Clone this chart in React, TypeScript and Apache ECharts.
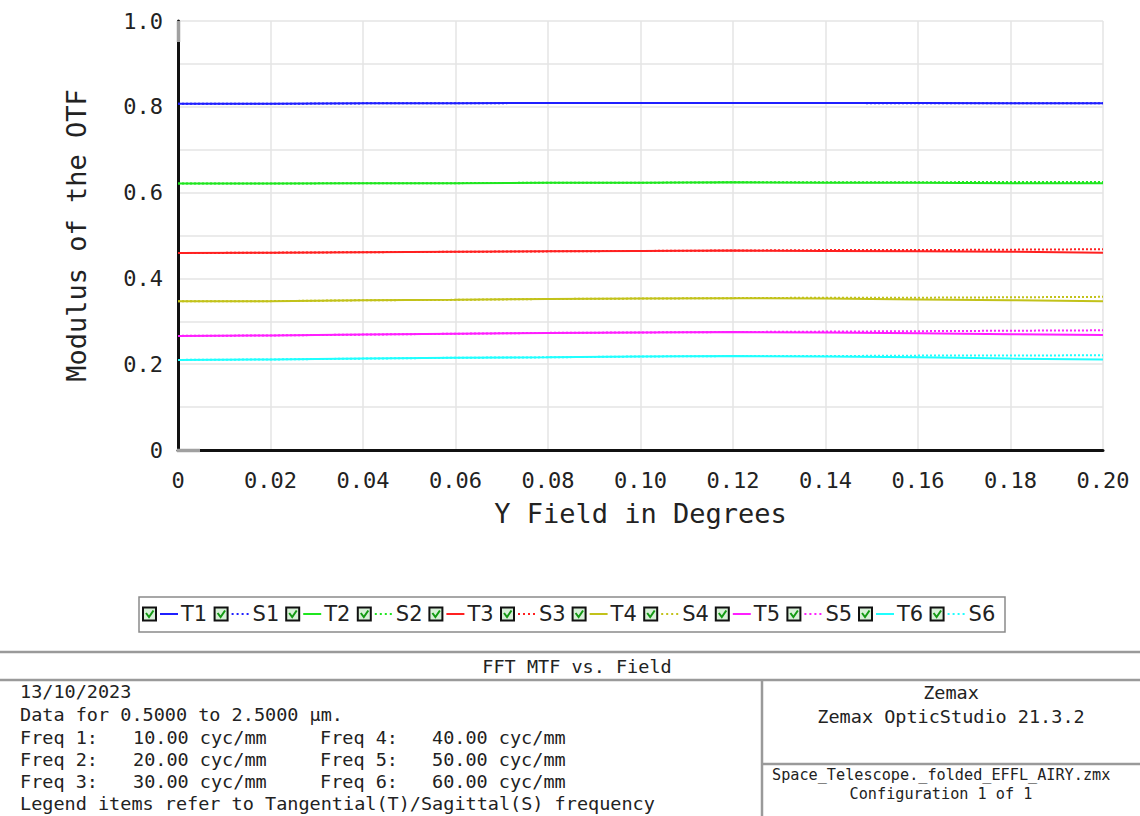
import React, { useEffect, useRef } from "react";
import * as echarts from "echarts";

const fieldDeg = [0, 0.02, 0.04, 0.06, 0.08, 0.1, 0.12, 0.14, 0.16, 0.18, 0.2];
const T1 = [0.807, 0.807, 0.808, 0.808, 0.809, 0.809, 0.809, 0.809, 0.809, 0.808, 0.808];
const S1 = [0.807, 0.807, 0.808, 0.808, 0.809, 0.809, 0.809, 0.809, 0.808, 0.808, 0.808];
const T2 = [0.621, 0.621, 0.622, 0.622, 0.623, 0.623, 0.624, 0.623, 0.623, 0.622, 0.622];
const S2 = [0.621, 0.621, 0.622, 0.622, 0.623, 0.623, 0.624, 0.624, 0.624, 0.625, 0.625];
const T3 = [0.459, 0.46, 0.461, 0.462, 0.463, 0.464, 0.465, 0.464, 0.463, 0.462, 0.46];
const S3 = [0.459, 0.46, 0.461, 0.462, 0.463, 0.464, 0.465, 0.466, 0.466, 0.467, 0.468];
const T4 = [0.347, 0.347, 0.349, 0.35, 0.352, 0.353, 0.354, 0.353, 0.351, 0.349, 0.347];
const S4 = [0.347, 0.347, 0.349, 0.35, 0.352, 0.353, 0.354, 0.355, 0.355, 0.356, 0.357];
const T5 = [0.266, 0.267, 0.269, 0.271, 0.273, 0.274, 0.275, 0.274, 0.272, 0.27, 0.268];
const S5 = [0.266, 0.267, 0.269, 0.271, 0.273, 0.274, 0.275, 0.276, 0.277, 0.278, 0.279];
const T6 = [0.21, 0.211, 0.213, 0.215, 0.216, 0.218, 0.219, 0.218, 0.216, 0.213, 0.211];
const S6 = [0.21, 0.211, 0.213, 0.215, 0.216, 0.218, 0.219, 0.219, 0.22, 0.22, 0.221];

const seriesNames = ["T1", "S1", "T2", "S2", "T3", "S3", "T4", "S4", "T5", "S5", "T6", "S6"];
const seriesValues = [T1, S1, T2, S2, T3, S3, T4, S4, T5, S5, T6, S6];
const freqColors = ["#1f1fff", "#1fe61f", "#ff2020", "#c2c21a", "#ff1fff", "#1fffff"];

const chartTitle = "FFT MTF vs. Field";
const xTitle = "Y Field in Degrees";
const yTitle = "Modulus of the OTF";
const infoLeft = ["13/10/2023", "Data for 0.5000 to 2.5000 µm."];
const freqLabels = ["Freq 1:", "Freq 2:", "Freq 3:", "Freq 4:", "Freq 5:", "Freq 6:"];
const freqValues = ["10.00 cyc/mm", "20.00 cyc/mm", "30.00 cyc/mm", "40.00 cyc/mm", "50.00 cyc/mm", "60.00 cyc/mm"];
const legendNote = "Legend items refer to Tangential(T)/Sagittal(S) frequency";
const infoRight = ["Zemax", "Zemax OpticStudio 21.3.2"];
const infoFile = ["Space_Telescope._folded_EFFL_AIRY.zmx", "Configuration 1 of 1"];

const MONO = "'DejaVu Sans Mono', monospace";
const TXT = "#222";

export default function App() {
  const ref = useRef<HTMLDivElement>(null);
  useEffect(() => {
    if (!ref.current) return;
    const chart = echarts.init(ref.current, null, { renderer: "svg" });

    const series = seriesNames.map((name, i) => ({
      name,
      type: "line",
      data: fieldDeg.map((x, j) => [x, seriesValues[i][j]]),
      showSymbol: false,
      symbol: "none",
      lineStyle: {
        color: freqColors[Math.floor(i / 2)],
        width: 2,
        type: i % 2 === 0 ? "solid" : "dotted",
      },
      z: i % 2 === 0 ? 2 : 3,
    }));

    const graphics: any[] = [];
    // gray ends of the axes, as in the original
    graphics.push({
      type: "line", z: 100,
      shape: { x1: 178.5, y1: 21, x2: 178.5, y2: 42 },
      style: { stroke: "#a0a0a0", lineWidth: 3.5 },
    });
    graphics.push({
      type: "line", z: 100,
      shape: { x1: 177, y1: 450.5, x2: 200, y2: 450.5 },
      style: { stroke: "#a0a0a0", lineWidth: 3.5 },
    });
    // legend box
    graphics.push({
      type: "rect",
      shape: { x: 139, y: 597, width: 866, height: 35 },
      style: { fill: "#fff", stroke: "#8a8a8a", lineWidth: 1.5 },
    });
    seriesNames.forEach((name, i) => {
      const x0 = 143 + i * 71.6;
      const cy = 614;
      const col = freqColors[Math.floor(i / 2)];
      graphics.push({
        type: "rect",
        shape: { x: x0, y: cy - 6.5, width: 13, height: 13 },
        style: { fill: "#d8f0d8", stroke: "#111", lineWidth: 2 },
      });
      graphics.push({
        type: "polyline",
        shape: { points: [[x0 + 3, cy - 1], [x0 + 6, cy + 3], [x0 + 10.5, cy - 3.5]] },
        style: { stroke: "#139a13", lineWidth: 2, fill: "none" },
      });
      graphics.push({
        type: "line",
        shape: { x1: x0 + 17, y1: cy, x2: x0 + 35, y2: cy },
        style: { stroke: col, lineWidth: 2, lineDash: i % 2 === 0 ? null : [2, 3] },
      });
      graphics.push({
        type: "text",
        x: x0 + 38,
        y: cy,
        style: { text: name, font: "21px 'DejaVu Sans', sans-serif", fill: TXT, verticalAlign: "middle" },
      });
    });

    // info panel lines
    const lineStyle = { stroke: "#9a9a9a", lineWidth: 2.5 };
    graphics.push({ type: "line", shape: { x1: 0, y1: 652, x2: 1140, y2: 652 }, style: lineStyle });
    graphics.push({ type: "line", shape: { x1: 0, y1: 680, x2: 1140, y2: 680 }, style: lineStyle });
    graphics.push({ type: "line", shape: { x1: 762, y1: 680, x2: 762, y2: 816 }, style: lineStyle });
    graphics.push({ type: "line", shape: { x1: 762, y1: 764, x2: 1140, y2: 764 }, style: lineStyle });

    const infoFont = `18.5px ${MONO}`;
    graphics.push({
      type: "text", x: 577, y: 666,
      style: { text: chartTitle, font: infoFont, fill: TXT, align: "center", verticalAlign: "middle" },
    });
    infoLeft.forEach((t, k) => {
      graphics.push({
        type: "text", x: 20, y: 691 + k * 23,
        style: { text: t, font: infoFont, fill: TXT, verticalAlign: "middle" },
      });
    });
    for (let r = 0; r < 3; r++) {
      const y = 737 + r * 22;
      graphics.push({ type: "text", x: 20, y, style: { text: freqLabels[r], font: infoFont, fill: TXT, verticalAlign: "middle" } });
      graphics.push({ type: "text", x: 133, y, style: { text: freqValues[r], font: infoFont, fill: TXT, verticalAlign: "middle" } });
      graphics.push({ type: "text", x: 320, y, style: { text: freqLabels[r + 3], font: infoFont, fill: TXT, verticalAlign: "middle" } });
      graphics.push({ type: "text", x: 432, y, style: { text: freqValues[r + 3], font: infoFont, fill: TXT, verticalAlign: "middle" } });
    }
    graphics.push({
      type: "text", x: 20, y: 803,
      style: { text: legendNote, font: infoFont, fill: TXT, verticalAlign: "middle" },
    });
    infoRight.forEach((t, k) => {
      graphics.push({
        type: "text", x: 951, y: 692 + k * 24,
        style: { text: t, font: infoFont, fill: TXT, align: "center", verticalAlign: "middle" },
      });
    });
    graphics.push({
      type: "text", x: 772, y: 775,
      style: { text: infoFile[0], font: `15.2px ${MONO}`, fill: TXT, verticalAlign: "middle" },
    });
    graphics.push({
      type: "text", x: 941, y: 794,
      style: { text: infoFile[1], font: `15.2px ${MONO}`, fill: TXT, align: "center", verticalAlign: "middle" },
    });

    chart.setOption({
      animation: false,
      backgroundColor: "#fff",
      grid: { left: 178, right: 37, top: 21, bottom: 366, containLabel: false },
      xAxis: {
        type: "value",
        min: 0,
        max: 0.2,
        interval: 0.02,
        name: xTitle,
        nameLocation: "middle",
        nameGap: 50,
        nameTextStyle: { fontFamily: MONO, fontSize: 27, color: TXT },
        axisLine: { show: true, onZero: false, lineStyle: { color: "#111", width: 3 } },
        axisTick: { show: false },
        axisLabel: {
          fontFamily: MONO,
          fontSize: 22,
          color: TXT,
          margin: 19,
          formatter: (v: number) => (v === 0 ? "0" : v.toFixed(2)),
        },
        splitLine: { show: true, lineStyle: { color: "#e4e4e4", width: 1.5 } },
      },
      yAxis: {
        type: "value",
        min: 0,
        max: 1,
        interval: 0.1,
        name: yTitle,
        nameLocation: "middle",
        nameGap: 88,
        nameRotate: 90,
        nameTextStyle: { fontFamily: MONO, fontSize: 27, color: TXT },
        axisLine: { show: true, onZero: false, lineStyle: { color: "#111", width: 3 } },
        axisTick: { show: false },
        axisLabel: {
          fontFamily: MONO,
          fontSize: 22,
          color: TXT,
          margin: 15,
          formatter: (v: number) => {
            const k = Math.round(v * 10);
            if (k % 2 !== 0) return "";
            return k === 0 ? "0" : v.toFixed(1);
          },
        },
        splitLine: { show: true, lineStyle: { color: "#e4e4e4", width: 1.5 } },
      },
      series,
      graphic: graphics,
    });
    return () => chart.dispose();
  }, []);
  return (
    <div
      ref={ref}
      style={{ position: "fixed", left: 0, top: 0, width: 1140, height: 816, background: "#fff" }}
    />
  );
}
